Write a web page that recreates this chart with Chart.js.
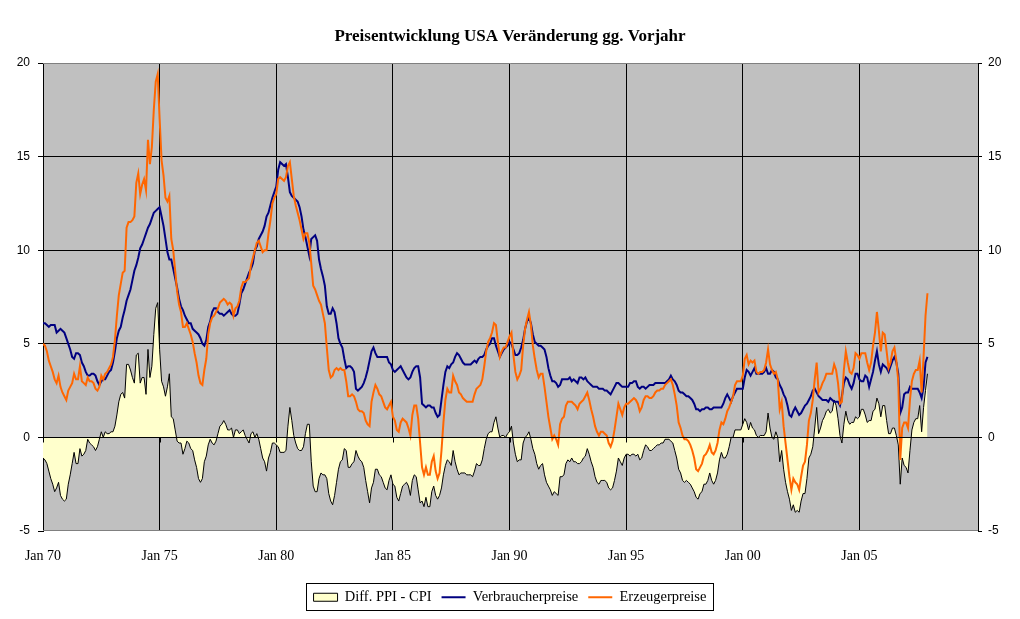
<!DOCTYPE html>
<html>
<head>
<meta charset="utf-8">
<title>Preisentwicklung USA</title>
<script src="https://cdn.jsdelivr.net/npm/chart.js@4.4.1/dist/chart.umd.min.js"></script>
<style>
    body { margin: 0; background: #fff; }
    #wrap { width: 1020px; height: 619px; }
</style>
</head>
<body>
<div id="wrap"><canvas id="myChart" width="1020" height="619"></canvas></div>
<script>
// monthly change vs. previous year in %, Jan 1970 ... Dec 2007
const verbraucherpreise = [
    6.1, 6.1, 6.0, 5.9, 6.0, 6.0, 6.0, 5.6, 5.7, 5.8, 5.7, 5.6,        // 1970
    5.3, 5.0, 4.7, 4.3, 4.2, 4.5, 4.5, 4.4, 4.0, 3.8, 3.5, 3.3,        // 1971
    3.3, 3.4, 3.4, 3.3, 3.0, 2.8, 3.0, 3.1, 3.1, 3.3, 3.5, 3.6,        // 1972
    4.0, 4.6, 5.3, 5.7, 5.9, 6.4, 6.8, 7.3, 7.6, 7.9, 8.4, 8.9,        // 1973
    9.2, 9.6, 10.1, 10.3, 10.6, 10.9, 11.2, 11.4, 11.7, 12.0, 12.1, 12.2, // 1974
    12.3, 11.8, 11.3, 10.6, 9.9, 9.5, 9.5, 9.0, 8.5, 8.0, 7.4, 7.0,    // 1975
    6.8, 6.5, 6.3, 6.1, 6.1, 5.8, 5.7, 5.6, 5.5, 5.3, 5.0, 4.9,        // 1976
    5.2, 5.9, 6.2, 6.7, 6.9, 6.9, 6.7, 6.6, 6.6, 6.5, 6.6, 6.7,        // 1977
    6.8, 6.6, 6.5, 6.5, 6.6, 7.1, 7.7, 7.9, 8.2, 8.5, 8.8, 9.0,        // 1978
    9.3, 10.0, 10.2, 10.6, 10.8, 11.0, 11.3, 11.8, 12.0, 12.4, 12.8, 13.1, // 1979
    13.4, 14.3, 14.7, 14.6, 14.5, 14.6, 13.9, 13.1, 12.9, 12.8, 12.7, 12.6, // 1980
    12.3, 11.8, 11.1, 10.7, 10.2, 9.7, 10.6, 10.7, 10.8, 10.5, 9.5, 9.0, // 1981
    8.6, 8.1, 7.0, 6.6, 6.6, 6.9, 6.7, 6.1, 5.3, 5.0, 4.8, 4.2,        // 1982
    3.7, 3.8, 3.8, 3.7, 3.5, 2.6, 2.5, 2.6, 2.7, 2.9, 3.2, 3.6,        // 1983
    4.1, 4.6, 4.8, 4.5, 4.3, 4.3, 4.3, 4.3, 4.3, 4.3, 4.0, 3.9,        // 1984
    3.6, 3.5, 3.6, 3.7, 3.8, 3.6, 3.4, 3.2, 3.1, 3.2, 3.5, 3.7,        // 1985
    3.8, 3.8, 3.2, 1.8, 1.7, 1.6, 1.7, 1.7, 1.6, 1.6, 1.3, 1.1,        // 1986
    1.2, 2.0, 2.8, 3.5, 3.8, 3.7, 3.9, 4.0, 4.3, 4.5, 4.4, 4.2,        // 1987
    4.0, 3.9, 3.9, 3.9, 3.9, 4.0, 4.1, 4.0, 4.2, 4.3, 4.3, 4.4,        // 1988
    4.7, 4.9, 5.0, 5.3, 5.3, 4.9, 4.6, 4.3, 4.5, 4.7, 4.8, 4.9,        // 1989
    5.1, 5.0, 4.7, 4.4, 4.4, 4.5, 4.8, 5.2, 5.8, 6.2, 6.4, 6.1,        // 1990
    5.5, 5.1, 5.0, 4.9, 4.9, 4.8, 4.7, 4.3, 3.7, 3.3, 3.0, 3.0,        // 1991
    2.9, 2.7, 2.8, 3.1, 3.1, 3.1, 3.1, 3.2, 3.0, 3.1, 3.0, 2.9,        // 1992
    3.2, 3.2, 3.1, 3.2, 3.0, 2.9, 2.8, 2.7, 2.7, 2.7, 2.6, 2.6,        // 1993
    2.6, 2.5, 2.5, 2.4, 2.3, 2.5, 2.7, 2.9, 2.9, 2.8, 2.7, 2.7,        // 1994
    2.7, 2.7, 2.9, 2.9, 3.0, 3.0, 2.7, 2.6, 2.7, 2.7, 2.6, 2.7,        // 1995
    2.8, 2.8, 2.8, 2.9, 2.9, 2.9, 2.9, 2.9, 2.9, 3.0, 3.1, 3.3,        // 1996
    3.1, 3.0, 2.8, 2.5, 2.4, 2.4, 2.3, 2.2, 2.2, 2.1, 2.0, 1.8,        // 1997
    1.5, 1.5, 1.4, 1.5, 1.5, 1.6, 1.6, 1.5, 1.5, 1.6, 1.6, 1.6,        // 1998
    1.6, 1.6, 1.8, 2.1, 2.3, 2.1, 1.9, 2.2, 2.4, 2.6, 2.6, 2.6,        // 1999
    2.6, 3.2, 3.6, 3.5, 3.3, 3.5, 3.7, 3.4, 3.4, 3.4, 3.4, 3.5,        // 2000
    3.7, 3.4, 3.4, 3.6, 3.5, 3.2, 3.1, 2.8, 2.6, 2.3, 2.1, 1.7,        // 2001
    1.2, 1.1, 1.4, 1.6, 1.4, 1.2, 1.3, 1.5, 1.7, 1.8, 2.0, 2.2,        // 2002
    2.5, 2.6, 2.4, 2.2, 2.1, 2.0, 2.0, 2.0, 1.9, 2.1, 2.0, 1.9,        // 2003
    1.9, 1.9, 1.7, 2.2, 2.9, 3.2, 3.1, 2.8, 2.6, 2.9, 3.4, 3.4,        // 2004
    3.1, 3.0, 3.0, 3.3, 3.2, 2.7, 3.1, 3.5, 4.1, 4.6, 3.9, 3.5,        // 2005
    3.9, 3.8, 3.7, 3.5, 3.8, 4.1, 4.3, 4.0, 3.4, 1.3, 1.6, 2.3,        // 2006
    2.4, 2.4, 2.7, 2.6, 2.6, 2.6, 2.6, 2.4, 2.1, 2.7, 4.0, 4.3         // 2007
];

const erzeugerpreise = [
    5.0, 4.9, 4.6, 4.1, 3.8, 3.5, 3.1, 2.9, 3.3, 2.7, 2.4, 2.2,        // 1970
    2.0, 2.5, 2.7, 2.9, 3.4, 3.1, 3.1, 3.8, 3.0, 2.9, 2.8, 3.2,        // 1971
    3.0, 3.0, 2.9, 2.6, 2.5, 2.7, 3.3, 3.1, 3.4, 3.5, 3.7, 3.9,        // 1972
    4.3, 5.2, 6.5, 7.6, 8.2, 8.8, 8.9, 11.2, 11.5, 11.5, 11.6, 11.8,   // 1973
    13.6, 14.1, 13.0, 13.5, 13.8, 13.2, 15.9, 14.6, 15.5, 17.5, 19.0, 19.4, // 1974
    17.0, 14.8, 14.0, 12.8, 12.6, 12.9, 10.6, 10.0, 8.9, 7.8, 7.1, 6.7, // 1975
    5.9, 5.9, 6.1, 5.8, 5.5, 5.1, 4.5, 4.0, 3.3, 2.9, 2.8, 3.6,        // 1976
    4.2, 5.5, 6.1, 6.4, 6.5, 6.7, 6.9, 7.2, 7.3, 7.4, 7.3, 7.1,        // 1977
    7.2, 7.1, 6.5, 6.9, 7.0, 7.3, 8.0, 8.3, 8.3, 8.4, 8.5, 9.2,        // 1978
    9.6, 10.0, 10.4, 10.5, 10.2, 9.9, 10.0, 10.0, 10.9, 11.6, 12.5, 12.8, // 1979
    13.0, 13.8, 13.9, 13.8, 13.7, 13.9, 14.5, 14.7, 13.8, 12.9, 12.4, 12.0, // 1980
    11.6, 11.1, 10.6, 10.9, 10.9, 10.4, 9.3, 8.1, 7.9, 7.6, 7.3, 7.1,  // 1981
    6.6, 6.1, 4.8, 3.6, 3.2, 3.3, 3.6, 3.7, 3.6, 3.7, 3.6, 3.6,        // 1982
    3.0, 2.2, 2.2, 2.3, 2.2, 1.9, 1.5, 1.4, 1.4, 1.3, 0.9, 0.7,        // 1983
    0.6, 1.9, 2.4, 2.8, 2.6, 2.3, 2.2, 1.9, 1.6, 1.5, 1.7, 1.9,        // 1984
    1.1, 0.9, 0.4, 0.3, 0.8, 1.0, 0.9, 0.8, 0.5, 0.1, 1.2, 1.7,        // 1985
    1.7, 1.0, -0.3, -1.6, -2.0, -1.6, -2.0, -2.0, -1.3, -1.0, -1.8, -2.2, // 1986
    -1.9, -0.7, 0.8, 2.0, 2.6, 2.4, 2.4, 3.3, 3.0, 2.8, 2.4, 2.3,      // 1987
    2.1, 2.0, 1.9, 1.9, 1.9, 1.9, 2.3, 2.6, 2.7, 2.8, 3.1, 3.8,        // 1988
    4.6, 5.1, 5.3, 5.6, 6.1, 6.0, 5.1, 4.3, 4.6, 4.8, 4.8, 5.1,        // 1989
    5.4, 5.6, 4.4, 3.5, 3.1, 3.3, 3.6, 4.9, 5.8, 6.3, 6.7, 6.0,        // 1990
    4.9, 4.2, 3.6, 3.2, 3.4, 3.4, 2.7, 1.9, 1.1, 0.5, -0.1, 0.1,       // 1991
    -0.1, -0.4, 0.7, 1.0, 1.1, 1.7, 1.9, 1.9, 1.9, 1.8, 1.7, 1.5,      // 1992
    1.8, 1.9, 2.0, 2.2, 2.4, 2.0, 1.5, 1.1, 0.6, 0.3, 0.1, 0.3,        // 1993
    0.3, 0.2, 0.1, -0.3, -0.5, -0.2, 0.4, 1.1, 1.8, 1.5, 1.2, 1.6,     // 1994
    1.8, 1.8, 1.9, 2.0, 2.1, 2.0, 1.8, 1.4, 1.6, 2.0, 2.2, 2.2,        // 1995
    2.1, 2.1, 2.2, 2.4, 2.5, 2.5, 2.6, 2.6, 2.8, 2.9, 3.0, 3.1,        // 1996
    2.8, 2.3, 1.7, 0.8, 0.5, 0.1, -0.1, -0.1, -0.2, -0.4, -0.7, -1.1,  // 1997
    -1.7, -1.8, -1.6, -1.4, -1.0, -0.9, -0.7, -0.4, -0.8, -0.9, -0.7, -0.3, // 1998
    0.4, 0.8, 0.7, 1.0, 1.4, 1.6, 1.9, 2.2, 2.8, 3.0, 3.0, 3.0,        // 1999
    3.3, 4.2, 4.4, 3.9, 4.1, 4.0, 4.1, 3.5, 3.4, 3.5, 3.5, 3.6,        // 2000
    4.0, 4.7, 3.9, 3.6, 3.4, 3.5, 3.1, 1.5, 1.9, 0.6, -0.3, -1.2,      // 2001
    -2.1, -2.8, -2.2, -2.4, -2.5, -2.8, -2.1, -1.5, -1.3, -0.4, 0.9, 1.3, // 2002
    2.0, 3.1, 4.0, 2.4, 2.6, 2.9, 3.1, 3.4, 3.4, 3.4, 3.4, 3.9,        // 2003
    3.6, 2.9, 1.8, 1.9, 3.6, 4.6, 4.0, 3.5, 3.4, 3.7, 4.5, 4.4,        // 2004
    4.2, 4.5, 4.5, 4.5, 4.0, 3.6, 4.0, 4.9, 5.6, 6.7, 5.7, 4.6,        // 2005
    5.6, 5.5, 4.6, 3.7, 4.0, 4.6, 4.8, 4.1, 3.0, -1.2, 0.5, 0.8,       // 2006
    0.8, 0.5, 2.0, 3.0, 3.4, 3.6, 3.6, 4.1, 2.4, 4.3, 6.5, 7.7         // 2007
];

const tickLabels = ['Jan 70', 'Jan 75', 'Jan 80', 'Jan 85', 'Jan 90', 'Jan 95', 'Jan 00', 'Jan 05'];
const monthsPerTick = 60;
const lastMonth = 481; // axis runs to Jan 2010

// PPI minus CPI
const differenz = erzeugerpreise.map((v, i) => Math.round((v - verbraucherpreise[i]) * 10) / 10);

const toPoints = (arr) => arr.map((v, i) => ({ x: i, y: v }));

Chart.defaults.font.family = 'Liberation Serif';
Chart.defaults.color = '#000';

const plotBackground = {
    id: 'plotBackground',
    beforeDraw(chart) {
        const { ctx, chartArea: a } = chart;
        ctx.save();
        ctx.fillStyle = '#C0C0C0';
        ctx.fillRect(a.left, a.top, a.right - a.left, a.bottom - a.top);
        ctx.restore();
    }
};

const zeroAxis = {
    id: 'zeroAxis',
    afterDatasetsDraw(chart) {
        const { ctx, chartArea: a, scales } = chart;
        const y0 = Math.round(scales.y.getPixelForValue(0)) + 0.5;
        ctx.save();
        ctx.lineWidth = 1;
        ctx.strokeStyle = '#000';
        ctx.beginPath();
        ctx.moveTo(a.left, y0);
        ctx.lineTo(a.right, y0);
        tickLabels.forEach((t, i) => {
            const px = Math.round(scales.x.getPixelForValue(i * monthsPerTick)) + 0.5;
            ctx.moveTo(px, y0);
            ctx.lineTo(px, y0 + 5);
        });
        ctx.stroke();
        // grey frame top and bottom
        ctx.strokeStyle = '#808080';
        ctx.beginPath();
        ctx.moveTo(a.left, Math.round(a.top) + 0.5);
        ctx.lineTo(a.right, Math.round(a.top) + 0.5);
        ctx.moveTo(a.left, Math.round(a.bottom) - 0.5);
        ctx.lineTo(a.right, Math.round(a.bottom) - 0.5);
        ctx.stroke();
        ctx.restore();
    }
};

const legendFrame = {
    id: 'legendFrame',
    afterDraw(chart) {
        const boxes = chart.legend.legendHitBoxes;
        if (!boxes || !boxes.length) return;
        const first = boxes[0];
        const last = boxes[boxes.length - 1];
        const left = Math.round(first.left) - 7.5;
        const right = Math.round(last.left + last.width) + 7.5;
        const top = Math.round(first.top) - 6.5;
        const bottom = Math.round(first.top + first.height) + 5.5;
        const ctx = chart.ctx;
        ctx.save();
        ctx.strokeStyle = '#000';
        ctx.lineWidth = 1;
        ctx.strokeRect(left, top, right - left, bottom - top);
        ctx.restore();
    }
};

const ctx = document.getElementById('myChart');

new Chart(ctx, {
    type: 'line',
    data: {
        datasets: [{
            label: 'Diff. PPI - CPI',
            data: toPoints(differenz),
            fill: 'origin',
            backgroundColor: '#FFFFCC',
            borderColor: '#000',
            borderWidth: 1,
            pointRadius: 0,
            pointStyle: 'rect',
            pointBackgroundColor: '#FFFFCC',
            pointBorderColor: '#000',
            pointBorderWidth: 1,
            order: 3
        }, {
            label: 'Verbraucherpreise',
            data: toPoints(verbraucherpreise),
            fill: false,
            borderColor: '#000080',
            borderWidth: 2,
            pointRadius: 0,
            pointStyle: 'line',
            pointBorderColor: '#000080',
            pointBorderWidth: 2,
            order: 2
        }, {
            label: 'Erzeugerpreise',
            data: toPoints(erzeugerpreise),
            fill: false,
            borderColor: '#FF6600',
            borderWidth: 2,
            pointRadius: 0,
            pointStyle: 'line',
            pointBorderColor: '#FF6600',
            pointBorderWidth: 2,
            order: 1
        }]
    },
    options: {
        responsive: false,
        animation: false,
        layout: { padding: { top: 0, bottom: 4.5, left: 0, right: 0 } },
        elements: { line: { tension: 0 } },
        plugins: {
            title: {
                display: true,
                text: 'Preisentwicklung USA Veränderung gg. Vorjahr',
                font: { size: 17, weight: 'bold', family: 'Liberation Serif', lineHeight: 1.2 },
                color: '#000',
                padding: { top: 26, bottom: 16.6 }
            },
            legend: {
                position: 'bottom',
                labels: {
                    usePointStyle: true,
                    pointStyleWidth: 24,
                    boxHeight: 8,
                    padding: 10,
                    font: { size: 14.5, family: 'Liberation Serif' },
                    color: '#000',
                    sort: (a, b) => a.datasetIndex - b.datasetIndex
                }
            },
            tooltip: { enabled: false }
        },
        scales: {
            x: {
                type: 'linear',
                min: 0,
                max: lastMonth,
                afterFit(scale) { scale.height = 49; },
                afterBuildTicks(scale) {
                    scale.ticks = tickLabels.map((t, i) => ({ value: i * monthsPerTick }));
                },
                border: { display: false },
                grid: { color: '#000', lineWidth: 1, drawTicks: false },
                ticks: {
                    autoSkip: false,
                    maxRotation: 0,
                    padding: 17,
                    font: { size: 14, family: 'Liberation Serif' },
                    callback: (v) => tickLabels[Math.round(v / monthsPerTick)]
                }
            },
            y: {
                position: 'left',
                min: -5,
                max: 20,
                afterFit(scale) { scale.width = 43; },
                border: { display: true, color: '#000', width: 1 },
                grid: {
                    color: (c) => (c.tick && c.tick.value > -5 && c.tick.value < 20) ? '#000' : 'rgba(0,0,0,0)',
                    tickColor: '#000',
                    tickLength: 5
                },
                ticks: { stepSize: 5, padding: 8, font: { size: 12, family: 'Liberation Sans' } }
            },
            y2: {
                position: 'right',
                min: -5,
                max: 20,
                afterFit(scale) { scale.width = 42; },
                border: { display: true, color: '#000', width: 1 },
                grid: { drawOnChartArea: false, tickColor: '#000', tickLength: 4 },
                ticks: { stepSize: 5, padding: 6, font: { size: 12, family: 'Liberation Sans' } }
            }
        }
    },
    plugins: [plotBackground, zeroAxis, legendFrame]
});
</script>
</body>
</html>
